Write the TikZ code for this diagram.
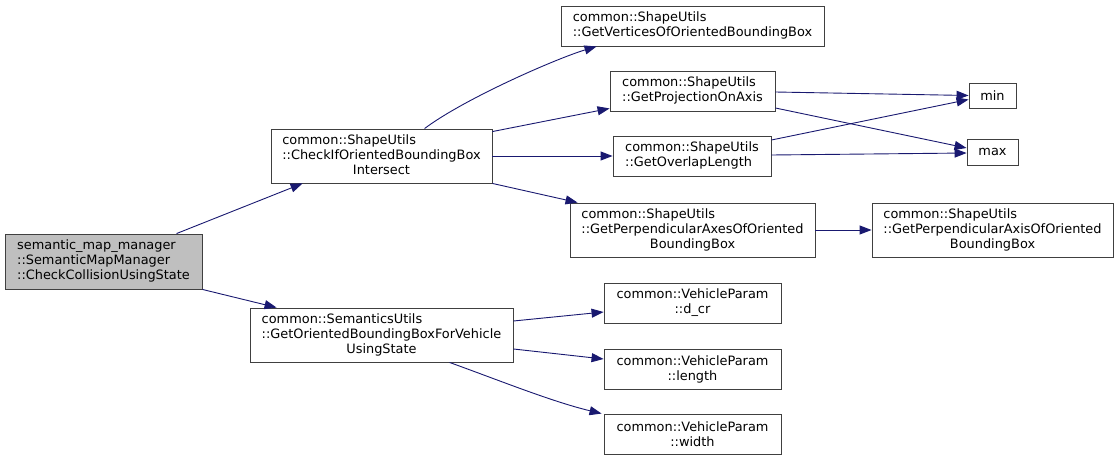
\documentclass[tikz,border=0pt]{standalone}
\usepackage{fontspec}
\setmainfont{DejaVu Sans}
\usetikzlibrary{arrows.meta,calc}
\definecolor{edgeblue}{HTML}{191970}
\definecolor{boxline}{HTML}{404040}
\definecolor{rootfill}{HTML}{BFBFBF}
\newcommand{\lt}[1]{\begin{tabular}{@{}l@{}}#1\end{tabular}}
\newcommand{\cl}[1]{\multicolumn{1}{@{}c@{}}{#1}}
\begin{document}
\begin{tikzpicture}[x=1pt,y=-1pt,
  fn/.style={draw=boxline,line width=0.9pt,fill=white,inner sep=0pt,
    font=\fontsize{12.9}{15}\selectfont,align=center},
  rootfn/.style={fn,fill=rootfill},
  call/.style={draw=edgeblue,line width=0.9pt,-{Triangle[length=12pt,width=9pt]}}
]
\useasboundingbox (0,0) rectangle (1119,460);
\node[rootfn,minimum width=197pt,minimum height=55pt] (root) at (103.5,261.5)
  {\lt{semantic\_map\_manager\\::SemanticMapManager\\::CheckCollisionUsingState}};
\node[fn,minimum width=221pt,minimum height=54pt] (chk) at (381.5,156)
  {\lt{common::ShapeUtils\\::CheckIfOrientedBoundingBox\\\cl{Intersect}}};
\node[fn,minimum width=263pt,minimum height=54pt] (obb) at (381.5,335)
  {\lt{common::SemanticsUtils\\::GetOrientedBoundingBoxForVehicle\\\cl{UsingState}}};
\node[fn,minimum width=263pt,minimum height=40pt] (vert) at (692.5,26)
  {\lt{common::ShapeUtils\\::GetVerticesOfOrientedBoundingBox}};
\node[fn,minimum width=165pt,minimum height=40pt] (proj) at (692.5,91)
  {\lt{common::ShapeUtils\\::GetProjectionOnAxis}};
\node[fn,minimum width=158pt,minimum height=40pt] (ovl) at (692,156)
  {\lt{common::ShapeUtils\\::GetOverlapLength}};
\node[fn,minimum width=245pt,minimum height=54pt] (paxes) at (692.5,230)
  {\lt{common::ShapeUtils\\::GetPerpendicularAxesOfOriented\\\cl{BoundingBox}}};
\node[fn,minimum width=47pt,minimum height=25pt] (min) at (992.5,95.5) {min};
\node[fn,minimum width=51pt,minimum height=26pt] (max) at (992.5,152) {max};
\node[fn,minimum width=241pt,minimum height=54pt] (paxis) at (992.5,230)
  {\lt{common::ShapeUtils\\::GetPerpendicularAxisOfOriented\\\cl{BoundingBox}}};
\node[fn,minimum width=177pt,minimum height=40pt] (dcr) at (692.5,303)
  {common::VehicleParam\\::d\_cr};
\node[fn,minimum width=177pt,minimum height=40pt] (len) at (692.5,369)
  {common::VehicleParam\\::length};
\node[fn,minimum width=177pt,minimum height=40pt] (wid) at (692.5,434)
  {common::VehicleParam\\::width};

% edges
\draw[call] ([xshift=172pt]root.north west) -- ([xshift=32pt]chk.south west);
\draw[call] (root.south east) -- ([xshift=27pt]obb.north west);
\draw[call] ([xshift=154pt]chk.north west) .. controls +(40,-30) and +(-40,12) .. ([xshift=36pt]vert.south west);
\draw[call] ([yshift=-3pt]chk.north east) -- ([yshift=3pt]proj.south west);
\draw[call] (chk.east) -- (ovl.west);
\draw[call] (chk.south east) -- ([xshift=8pt]paxes.north west);
\draw[call] ([yshift=-1pt]proj.east) -- (min.west);
\draw[call] ([yshift=-17pt]proj.east) -- ([yshift=4pt]max.west);
\draw[call] ([yshift=16pt]ovl.east) -- ([yshift=-4pt]min.west);
\draw[call] ([yshift=1pt]ovl.east) -- ([yshift=-1pt]max.west);
\draw[call] (paxes.east) -- (paxis.west);
\draw[call] ([yshift=14pt]obb.east) -- ([yshift=-9pt]dcr.west);
\draw[call] ([yshift=-14pt]obb.east) -- ([yshift=10pt]len.west);
\draw[call] ([xshift=200pt]obb.south west) .. controls +(50,18) and +(-50,-12) .. ([xshift=-2pt]wid.north west);
\end{tikzpicture}
\end{document}
